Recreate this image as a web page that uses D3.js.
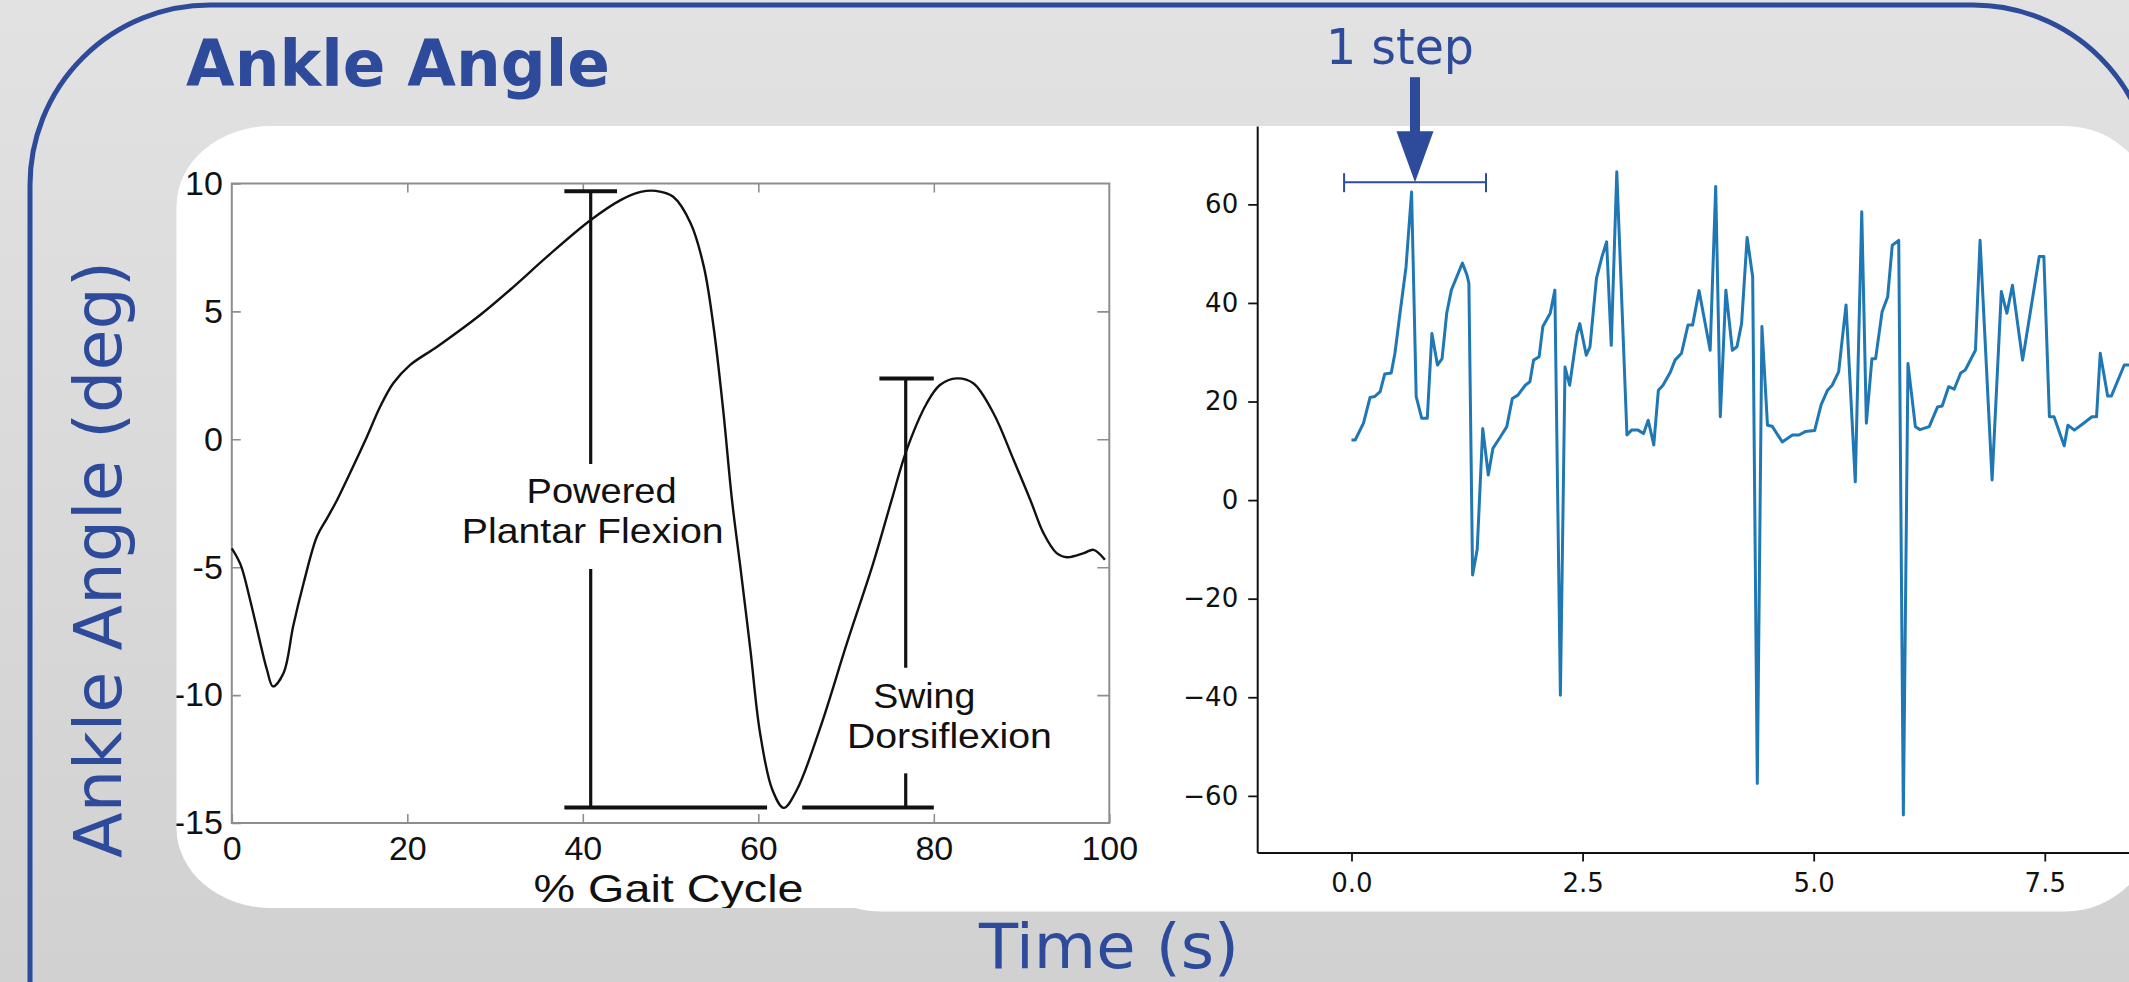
<!DOCTYPE html>
<html>
<head>
<meta charset="utf-8">
<script src="https://cdn.jsdelivr.net/npm/d3@7"></script>
<style>
html,body{margin:0;padding:0;overflow:hidden;background:#dadada;}
svg{display:block;}
</style>
</head>
<body>
<svg id="chart" width="2129" height="982"></svg>
<script>
// ---------------- DATA ----------------
// Left chart: ankle angle over the gait cycle (textbook curve)
const gaitPct   = [0, 1.0, 2.1, 3.25, 4.0, 4.7, 5.9, 7.0, 8.2, 9.7, 10.85, 12.0, 13.1, 15.4, 16.9, 18.4, 20.3, 23.4, 28.3, 32.1, 35.9, 40.9, 44.3, 46.6, 48.3, 50.3, 52.3, 53.8, 54.9, 56.0, 57.0, 57.95, 59.1, 60.2, 61.6, 62.9, 64.4, 67.1, 70.1, 73.1, 75.2, 76.9, 79.2, 80.7, 82.6, 84.5, 86.8, 89.1, 91.0, 92.5, 94.0, 95.2, 97.1, 98.2, 99.5];
const gaitAngle = [-4.26, -4.9, -6.3, -7.97, -9.0, -9.66, -9.14, -7.3, -5.6, -3.8, -3.09, -2.37, -1.59, 0.10, 1.27, 2.19, 2.90, 3.62, 4.86, 5.96, 7.13, 8.57, 9.35, 9.67, 9.71, 9.48, 8.44, 6.74, 4.40, 1.14, -2.37, -4.98, -8.23, -11.48, -13.70, -14.41, -13.70, -11.23, -7.97, -4.84, -2.37, -0.42, 1.41, 2.12, 2.38, 2.19, 1.02, -0.81, -2.37, -3.67, -4.45, -4.61, -4.45, -4.32, -4.71];
const gaitXTicks = [0, 20, 40, 60, 80, 100];
const gaitYTicks = [10, 5, 0, -5, -10, -15];

// Right chart: measured ankle angle over time
const timeS = [0.00,0.04,0.13,0.20,0.25,0.31,0.36,0.43,0.47,0.52,
  0.59,0.65,0.70,0.76,0.82,0.87,0.93,0.98,1.03,1.08,
  1.20,1.25,1.27,1.31,1.36,1.42,1.48,1.53,1.61,1.68,
  1.74,1.80,1.88,1.93,1.97,2.03,2.07,2.15,2.20,2.26,
  2.31,2.36,2.44,2.47,2.54,2.58,2.65,2.71,2.76,2.81,
  2.87,2.98,3.03,3.10,3.16,3.21,3.27,3.32,3.37,3.45,
  3.50,3.57,3.64,3.69,3.76,3.88,3.94,3.99,4.05,4.12,
  4.17,4.22,4.28,4.34,4.39,4.44,4.50,4.55,4.66,4.77,
  4.84,4.91,5.01,5.08,5.15,5.20,5.27,5.35,5.45,5.52,
  5.57,5.63,5.67,5.74,5.80,5.85,5.92,5.97,6.02,6.10,
  6.15,6.25,6.34,6.39,6.46,6.52,6.59,6.64,6.75,6.80,
  6.93,7.03,7.09,7.15,7.26,7.44,7.49,7.55,7.60,7.71,
  7.75,7.82,7.92,8.01,8.06,8.10,8.18,8.22,8.36,8.45];
const ankleDeg = [12.2,12.2,15.6,20.8,21.0,22.0,25.6,25.8,29.8,37.2,
  47.3,62.5,21.0,16.6,16.6,33.8,27.4,28.7,37.9,42.6,
  48.1,45.6,44.0,-15.2,-10.0,14.5,5.1,10.5,12.8,14.9,
  20.6,21.3,23.3,24.0,28.4,29.1,35.2,37.9,42.6,-39.6,
  27.0,23.3,33.8,35.8,29.4,31.1,45.0,49.4,52.4,31.4,
  66.6,13.2,14.2,14.2,13.5,16.2,11.2,22.3,23.3,26.0,
  28.4,29.8,35.5,35.5,42.5,30.4,63.6,16.9,42.6,30.4,
  31.1,35.8,53.3,45.3,-57.5,35.2,15.2,15.0,11.8,13.2,
  13.2,13.9,14.1,19.3,22.3,23.3,26.0,39.6,3.7,58.5,
  15.6,28.7,28.7,38.2,41.2,51.7,52.7,-63.9,27.7,14.9,
  14.3,14.9,18.9,19.1,23.0,22.5,25.8,26.4,30.4,52.7,
  4.1,42.3,37.9,43.6,28.4,49.4,49.4,16.9,16.9,11.0,
  15.2,14.2,15.6,16.9,16.9,29.8,21.1,21.1,27.4,27.4];
const timeTicks = [0, 2.5, 5, 7.5];
const degTicks  = [60, 40, 20, 0, -20, -40, -60];

// Annotations (data units)
const pfBracket = {x: 40.9, top: 9.70, bottom: -14.39, capFrom: 37.9, capTo: 43.9, baseFrom: 37.9, baseTo: 61.0, gapTop: -0.97, gapBottom: -5.07};
const sdBracket = {x: 76.8, top: 2.38, bottom: -14.39, capFrom: 73.8, capTo: 80.0, baseFrom: 65.0, baseTo: 80.0, gapTop: -8.93, gapBottom: -13.06};
const gaitNotes = [
  {text: "Powered",         x: 33.6, y: -2.49, len: 150},
  {text: "Plantar Flexion", x: 26.2, y: -4.05, len: 262},
  {text: "Swing",           x: 73.1, y: -10.52, len: 102},
  {text: "Dorsiflexion",    x: 70.1, y: -12.07, len: 205}
];
const oneStep = {from: -0.08, to: 1.455, level: 64.5, arrowAt: 0.687};

// ---------------- DRAWING ----------------
const W = 2129, H = 982;
const BLUE = "#2e4b9b";
const svg = d3.select("#chart");
const defs = svg.append("defs");

const grad = defs.append("linearGradient").attr("id", "bg").attr("x1", 0).attr("y1", 0).attr("x2", 0).attr("y2", 1);
grad.append("stop").attr("offset", "0%").attr("stop-color", "#e2e2e2");
grad.append("stop").attr("offset", "100%").attr("stop-color", "#d1d1d1");
svg.append("rect").attr("width", W).attr("height", H).attr("fill", "url(#bg)");

// outer rounded frame
svg.append("path")
  .attr("d", "M30,995 L30,185 A180,180 0 0 1 210,5 L1973,5 A180,180 0 0 1 2153,185 L2153,995")
  .attr("fill", "none").attr("stroke", BLUE).attr("stroke-width", 5);

// panels
const rightPanel = {x: 790, y: 126, w: 1365, h: 785.5, rx: 90, ry: 90};
const leftPanel  = {x: 176.5, y: 126, w: 980, h: 782, rx: 95, ry: 80};
function panelRect(sel, p) {
  return sel.append("rect").attr("x", p.x).attr("y", p.y).attr("width", p.w).attr("height", p.h).attr("rx", p.rx).attr("ry", p.ry);
}
panelRect(svg, rightPanel).attr("fill", "#fff");
panelRect(svg, leftPanel).attr("fill", "#fff");
panelRect(defs.append("clipPath").attr("id", "clipL"), leftPanel);
panelRect(defs.append("clipPath").attr("id", "clipR"), rightPanel);

// ---------- Left chart ----------
const gL = svg.append("g").attr("clip-path", "url(#clipL)");
const xG = d3.scaleLinear().domain([0, 100]).range([231.8, 1109.3]);
const yG = d3.scaleLinear().domain([-15, 10]).range([823, 183.5]);
const FRAME = "#8e8e8e";
const gaitFont = "'Liberation Sans', Arial, Helvetica, sans-serif";

gL.append("rect").attr("x", xG(0)).attr("y", yG(10)).attr("width", xG(100) - xG(0)).attr("height", yG(-15) - yG(10))
  .attr("fill", "none").attr("stroke", FRAME).attr("stroke-width", 2);

function styleGaitAxis(g) {
  g.select(".domain").remove();
  g.selectAll(".tick line").attr("stroke", FRAME).attr("stroke-width", 1.6);
  g.selectAll(".tick text").attr("fill", "#111").style("font-family", gaitFont).style("font-size", "34px");
}
gL.append("g").attr("transform", `translate(0,${yG(-15)})`)
  .call(d3.axisBottom(xG).tickValues(gaitXTicks).tickSizeInner(-9).tickSizeOuter(0).tickPadding(13).tickFormat(d => String(d)))
  .call(styleGaitAxis);
gL.append("g").attr("transform", `translate(${xG(0)},0)`)
  .call(d3.axisLeft(yG).tickValues(gaitYTicks).tickSizeInner(-9).tickSizeOuter(0).tickPadding(9).tickFormat(d => String(d)))
  .call(styleGaitAxis);
gL.append("g").attr("transform", `translate(0,${yG(10)})`)
  .call(d3.axisTop(xG).tickValues(gaitXTicks.slice(1, -1)).tickSizeInner(-9).tickSizeOuter(0).tickFormat(""))
  .call(styleGaitAxis);
gL.append("g").attr("transform", `translate(${xG(100)},0)`)
  .call(d3.axisRight(yG).tickValues(gaitYTicks.slice(1, -1)).tickSizeInner(-12).tickSizeOuter(0).tickFormat(""))
  .call(styleGaitAxis);

// curve
const gaitData = gaitPct.map((p, i) => [p, gaitAngle[i]]);
gL.append("path").datum(gaitData)
  .attr("d", d3.line().x(d => xG(d[0])).y(d => yG(d[1])).curve(d3.curveCatmullRom.alpha(0.5)))
  .attr("fill", "none").attr("stroke", "#111").attr("stroke-width", 2.4);

// brackets
function bracket(b) {
  const g = gL.append("g").attr("stroke", "#111").attr("fill", "none");
  g.append("line").attr("x1", xG(b.capFrom)).attr("x2", xG(b.capTo)).attr("y1", yG(b.top)).attr("y2", yG(b.top)).attr("stroke-width", 4);
  g.append("line").attr("x1", xG(b.baseFrom)).attr("x2", xG(b.baseTo)).attr("y1", yG(b.bottom)).attr("y2", yG(b.bottom)).attr("stroke-width", 4);
  g.append("line").attr("x1", xG(b.x)).attr("x2", xG(b.x)).attr("y1", yG(b.top)).attr("y2", yG(b.gapTop)).attr("stroke-width", 3.2);
  g.append("line").attr("x1", xG(b.x)).attr("x2", xG(b.x)).attr("y1", yG(b.gapBottom)).attr("y2", yG(b.bottom)).attr("stroke-width", 3.2);
}
bracket(pfBracket);
bracket(sdBracket);

gL.selectAll("text.note").data(gaitNotes).join("text").attr("class", "note")
  .attr("x", d => xG(d.x)).attr("y", d => yG(d.y))
  .attr("textLength", d => d.len).attr("lengthAdjust", "spacingAndGlyphs")
  .style("font-family", gaitFont).style("font-size", "35px").attr("fill", "#111")
  .text(d => d.text);

gL.append("text").attr("x", xG(50) - 137).attr("y", 902)
  .attr("textLength", 270).attr("lengthAdjust", "spacingAndGlyphs")
  .style("font-family", gaitFont).style("font-size", "38px").attr("fill", "#111")
  .text("% Gait Cycle");

// ---------- Right chart ----------
const gR = svg.append("g").attr("clip-path", "url(#clipR)");
const xT = d3.scaleLinear().domain([-1.02, 8.45]).range([1257.2, 2132.6]);
const yT = d3.scaleLinear().domain([-71.5, 75.9]).range([852.5, 126]);
const mplFont = "'DejaVu Sans', sans-serif";

function styleMplAxis(g) {
  g.select(".domain").attr("stroke", "#111").attr("stroke-width", 2);
  g.selectAll(".tick line").attr("stroke", "#111").attr("stroke-width", 1.8);
  g.selectAll(".tick text").attr("fill", "#111").style("font-family", mplFont).style("font-size", "26px");
}
gR.append("g").attr("transform", `translate(0,${yT(-71.5)})`)
  .call(d3.axisBottom(xT).tickValues(timeTicks).tickSizeInner(9).tickSizeOuter(0).tickPadding(12).tickFormat(d3.format(".1f")))
  .call(styleMplAxis);
gR.append("g").attr("transform", `translate(${xT(-1.02)},0)`)
  .call(d3.axisLeft(yT).tickValues(degTicks).tickSizeInner(9).tickSizeOuter(0).tickPadding(10).tickFormat(d3.format("d")))
  .call(styleMplAxis);

const seriesData = timeS.map((t, i) => [t, ankleDeg[i]]);
gR.append("path").datum(seriesData)
  .attr("d", d3.line().x(d => xT(d[0])).y(d => yT(d[1])))
  .attr("fill", "none").attr("stroke", "#1f77b4").attr("stroke-width", 3)
  .attr("stroke-linejoin", "round");

// "1 step" span marker
const sy = yT(oneStep.level);
const sg = svg.append("g").attr("stroke", BLUE).attr("fill", "none").attr("stroke-width", 2);
sg.append("line").attr("x1", xT(oneStep.from)).attr("x2", xT(oneStep.to)).attr("y1", sy).attr("y2", sy);
sg.append("line").attr("x1", xT(oneStep.from)).attr("x2", xT(oneStep.from)).attr("y1", sy - 9).attr("y2", sy + 10);
sg.append("line").attr("x1", xT(oneStep.to)).attr("x2", xT(oneStep.to)).attr("y1", sy - 9).attr("y2", sy + 10);
const ax = xT(oneStep.arrowAt);
svg.append("rect").attr("x", ax - 5).attr("y", sy - 105).attr("width", 10).attr("height", 56).attr("fill", BLUE);
svg.append("path").attr("d", `M${ax - 18.5},${sy - 51} L${ax + 18.5},${sy - 51} L${ax},${sy} Z`).attr("fill", BLUE);

// ---------- Texts ----------
const titleFont = "'DejaVu Sans', 'Open Sans', sans-serif";
svg.append("text").attr("x", 186).attr("y", 86)
  .attr("textLength", 424).attr("lengthAdjust", "spacingAndGlyphs")
  .style("font-family", titleFont).style("font-weight", "bold").style("font-size", "64px").attr("fill", BLUE)
  .text("Ankle Angle");

svg.append("text").attr("transform", "translate(121,858) rotate(-90)")
  .attr("textLength", 597).attr("lengthAdjust", "spacingAndGlyphs")
  .style("font-family", titleFont).style("font-size", "65px").attr("fill", BLUE)
  .text("Ankle Angle (deg)");

svg.append("text").attr("x", 979).attr("y", 968)
  .attr("textLength", 260).attr("lengthAdjust", "spacingAndGlyphs")
  .style("font-family", titleFont).style("font-size", "63px").attr("fill", BLUE)
  .text("Time (s)");

svg.append("text").attr("x", ax - 89).attr("y", 64)
  .attr("textLength", 148).attr("lengthAdjust", "spacingAndGlyphs")
  .style("font-family", titleFont).style("font-size", "50px").attr("fill", BLUE)
  .text("1 step");
</script>
</body>
</html>
